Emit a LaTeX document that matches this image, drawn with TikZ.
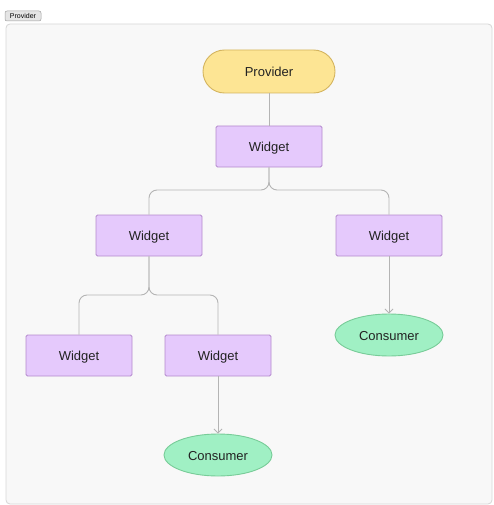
\documentclass[tikz,border=0pt]{standalone}
\usepackage{fontspec}
\setmainfont{Liberation Sans}
\usetikzlibrary{arrows.meta,shapes.geometric}
\definecolor{panelfill}{HTML}{F8F8F8}
\definecolor{panelline}{HTML}{D6D6D6}
\definecolor{provfill}{HTML}{FDE594}
\definecolor{provline}{HTML}{D4B45E}
\definecolor{widfill}{HTML}{E5C9FC}
\definecolor{widline}{HTML}{B48ACD}
\definecolor{consfill}{HTML}{A0F0C4}
\definecolor{consline}{HTML}{78CC98}
\definecolor{edge}{HTML}{B4B4B4}
\definecolor{txt}{HTML}{222222}
\tikzset{
  labeltext/.style={text=txt, font=\fontsize{13}{15}\selectfont, text height=10pt, text depth=0pt},
  widgetbox/.style={labeltext, draw=widline, fill=widfill, line width=0.9pt, minimum width=106pt, minimum height=41pt, inner sep=0pt, rounded corners=1.5pt},
  providerbox/.style={labeltext, draw=provline, fill=provfill, line width=0.9pt, minimum width=132pt, minimum height=43pt, rounded corners=21.5pt, inner sep=0pt},
  consumerbox/.style={labeltext, ellipse, draw=consline, fill=consfill, line width=0.9pt, minimum width=108pt, minimum height=42pt, inner sep=0pt},
  link/.style={draw=edge, line width=0.9pt},
  flow/.style={draw=edge, line width=0.9pt, -{Straight Barb[length=4pt,width=8pt]}},
  branch/.style={draw=edge, line width=0.9pt, rounded corners=8pt},
}
\begin{document}
\begin{tikzpicture}[x=1pt,y=-1pt]
\useasboundingbox (0,0) rectangle (493,505);
\path[draw=panelline, fill=panelfill, rounded corners=4pt, line width=0.8pt] (6,24) rectangle (492,504);
\node[draw=gray!75, fill=gray!20, rounded corners=2pt, line width=0.5pt, inner sep=0pt, minimum width=36pt, minimum height=10pt, text=black, font=\fontsize{7}{8}\selectfont] (tag) at (23,16) {Provider};

\node[providerbox] (prov) at (269,71.5) {Provider};
\node[widgetbox] (w1) at (269,146.5) {Widget};
\node[widgetbox] (wl) at (149,235.5) {Widget};
\node[widgetbox] (wr) at (389,235.5) {Widget};
\node[consumerbox] (cr) at (389,335) {Consumer};
\node[widgetbox] (wll) at (79,355.5) {Widget};
\node[widgetbox] (wlr) at (218,355.5) {Widget};
\node[consumerbox] (cl) at (218,455) {Consumer};

\draw[link] (prov) -- (w1);
\draw[branch] (w1.south) -- (w1.south |- 0,190) -- (wl.north |- 0,190) -- (wl.north);
\draw[branch] (w1.south) -- (w1.south |- 0,190) -- (wr.north |- 0,190) -- (wr.north);
\draw[branch] (wl.south) -- (wl.south |- 0,295) -- (wll.north |- 0,295) -- (wll.north);
\draw[branch] (wl.south) -- (wl.south |- 0,295) -- (wlr.north |- 0,295) -- (wlr.north);
\draw[flow] (wr) -- (cr);
\draw[flow] (wlr) -- (cl);
\end{tikzpicture}
\end{document}
